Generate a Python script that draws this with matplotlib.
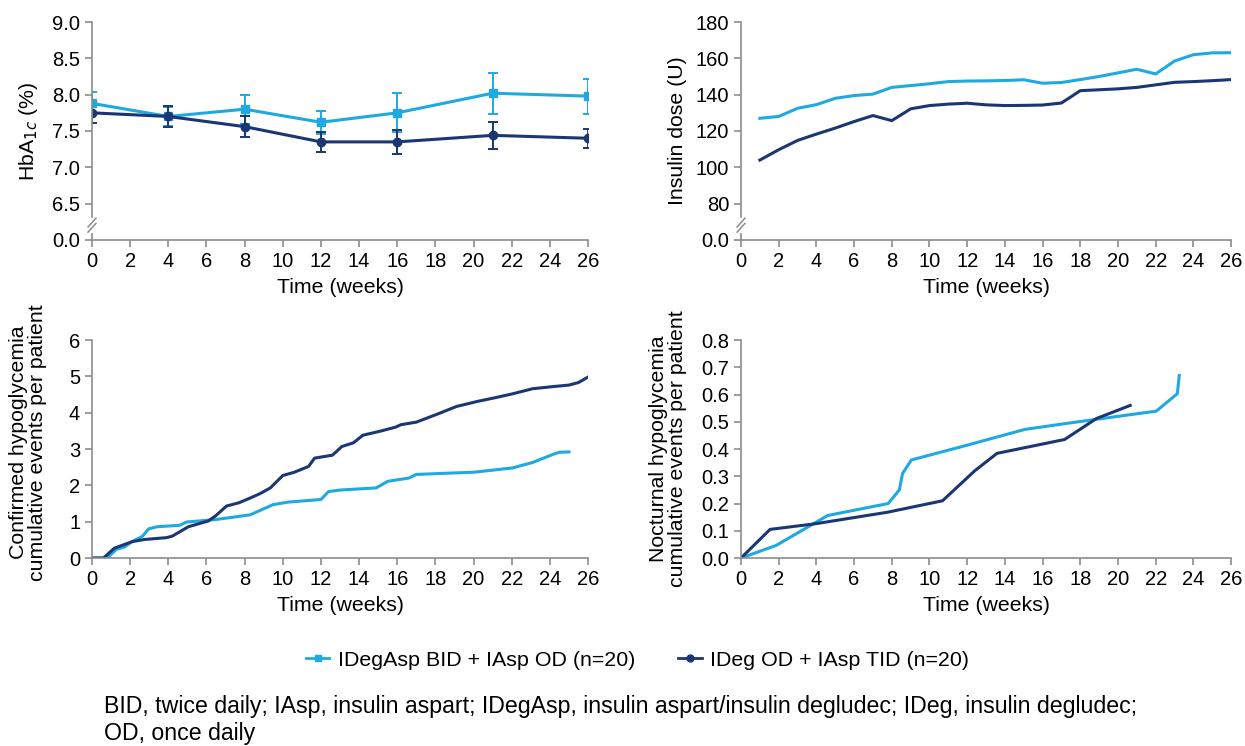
import matplotlib.pyplot as plt
from matplotlib.lines import Line2D

plt.rcParams['font.family'] = ['Liberation Sans', 'DejaVu Sans']
plt.rcParams['font.size'] = 14.5

LIGHT = "#1fa9e1"
DARK = "#1b3674"
GRAY = "#8c8c8c"

# HbA1c (%)
hba_weeks = [0, 4, 8, 12, 16, 21, 26]
hba_light = [7.88, 7.70, 7.80, 7.62, 7.75, 8.02, 7.98]
hba_light_err = [0.16, 0.13, 0.20, 0.16, 0.27, 0.28, 0.24]
hba_dark = [7.75, 7.70, 7.56, 7.35, 7.35, 7.44, 7.40]
hba_dark_err = [0.14, 0.14, 0.14, 0.14, 0.16, 0.19, 0.13]

# Insulin dose (U), weeks 1-26
dose_weeks = list(range(1, 27))
dose_light = [127, 128, 132.5, 134.5, 138, 139.5, 140.3, 144, 145, 146, 147.2, 147.5, 147.6,
              147.8, 148.2, 146.3, 146.7, 148.3, 150, 152, 154, 151.4, 158.5, 162, 163, 163.1]
dose_dark = [104, 109.7, 114.8, 118.3, 121.6, 125.2, 128.5, 125.7, 132.2, 134, 134.8, 135.3, 134.4,
             134, 134.1, 134.3, 135.4, 142.2, 142.7, 143.2, 144, 145.4, 146.8, 147.2, 147.7, 148.3]

# Confirmed hypoglycaemia cumulative events per patient
conf_light_x = [0, 0.8, 1.28, 1.7, 2.1, 2.65, 2.96, 3.4, 4.6, 4.95, 6.5, 7.35, 8.3, 8.85, 9.5,
                10.3, 12.0, 12.4, 13.0, 14.9, 15.5, 16.6, 17.0, 18.9, 20.0, 22.05, 23.1, 24.2,
                24.5, 25.0]
conf_light_y = [0, 0, 0.24, 0.3, 0.45, 0.6, 0.8, 0.86, 0.9, 0.99, 1.06, 1.12, 1.19, 1.32, 1.47,
                1.54, 1.61, 1.83, 1.87, 1.93, 2.11, 2.2, 2.3, 2.34, 2.36, 2.48, 2.63, 2.86,
                2.91, 2.92]
conf_dark_x = [0, 0.6, 1.17, 2.1, 2.75, 3.9, 4.2, 5.05, 6.1, 6.5, 7.05, 7.7, 8.2, 8.8, 9.35, 10.0,
               10.6, 11.35, 11.67, 12.6, 13.1, 13.7, 14.2, 15.1, 15.9, 16.2, 17.0, 18.1, 19.1,
               20.2, 21.2, 22.05, 23.1, 24.2, 25.0, 25.5, 26.0]
conf_dark_y = [0, 0, 0.27, 0.45, 0.51, 0.56, 0.6, 0.86, 1.02, 1.17, 1.43, 1.52, 1.63, 1.77, 1.93,
               2.27, 2.36, 2.52, 2.75, 2.83, 3.07, 3.17, 3.38, 3.49, 3.6, 3.67, 3.74, 3.96, 4.17,
               4.31, 4.42, 4.52, 4.66, 4.72, 4.76, 4.83, 4.98]

# Nocturnal hypoglycaemia cumulative events per patient
noct_light_x = [0, 1.86, 4.6, 7.81, 8.4, 8.57, 9.04, 11.78, 15.06, 17.27, 18.96, 22.03, 23.15, 23.25]
noct_light_y = [0, 0.046, 0.156, 0.2, 0.25, 0.31, 0.36, 0.41, 0.472, 0.494, 0.51, 0.539, 0.603, 0.67]
noct_dark_x = [0, 1.54, 3.97, 7.77, 10.69, 12.4, 13.58, 17.17, 18.86, 20.65]
noct_dark_y = [0, 0.105, 0.126, 0.168, 0.21, 0.32, 0.384, 0.435, 0.512, 0.56]

week_ticks = list(range(0, 27, 2))
legend_labels = ["IDegAsp BID + IAsp OD (n=20)", "IDeg OD + IAsp TID (n=20)"]
footnote = ("BID, twice daily; IAsp, insulin aspart; IDegAsp, insulin aspart/insulin degludec; "
            "IDeg, insulin degludec;\nOD, once daily")

fig = plt.figure(figsize=(12.45, 7.46), dpi=100)
ax1 = fig.add_axes([0.0739, 0.6783, 0.3984, 0.2922])
ax2 = fig.add_axes([0.5952, 0.6783, 0.3936, 0.2922])
ax3 = fig.add_axes([0.0739, 0.2520, 0.3984, 0.2922])
ax4 = fig.add_axes([0.5952, 0.2520, 0.3936, 0.2922])


def style(ax):
    for s in ["top", "right"]:
        ax.spines[s].set_visible(False)
    for s in ["left", "bottom"]:
        ax.spines[s].set_color(GRAY)
        ax.spines[s].set_linewidth(1.2)
    ax.tick_params(direction="out", length=5, width=1.2, color=GRAY, pad=3.5)
    ax.set_xlim(0, 26)
    ax.set_xticks(week_ticks)
    ax.set_xlabel("Time (weeks)", labelpad=5, fontsize=15.3)


def axis_break(ax, frac):
    # white gap in the y spine and two slanted marks
    ax.plot([0, 0], [frac - 0.025, frac + 0.025], transform=ax.transAxes, color="white",
            lw=3, clip_on=False, zorder=5)
    for d in (-0.012, 0.012):
        ax.plot([-0.008, 0.008], [frac + d - 0.02, frac + d + 0.02], transform=ax.transAxes,
                color=GRAY, lw=1.1, clip_on=False, zorder=6)


for ax in (ax1, ax2, ax3, ax4):
    style(ax)

# HbA1c
ax1.errorbar(hba_weeks, hba_light, yerr=hba_light_err, color=LIGHT, marker="s", ms=6,
             lw=2.2, capsize=3.5, elinewidth=1.4, capthick=1.4)
ax1.errorbar(hba_weeks, hba_dark, yerr=hba_dark_err, color=DARK, marker="o", ms=6,
             lw=2.2, capsize=3.5, elinewidth=1.4, capthick=1.4)
ax1.set_ylim(6.0, 9.0)
ax1.set_yticks([6.0, 6.5, 7.0, 7.5, 8.0, 8.5, 9.0])
ax1.set_yticklabels(["0.0", "6.5", "7.0", "7.5", "8.0", "8.5", "9.0"])
ax1.set_ylabel("HbA$_{1c}$ (%)", labelpad=9, fontsize=15.3)
axis_break(ax1, 0.068)

# Insulin dose
ax2.plot(dose_weeks, dose_light, color=LIGHT, lw=2.2)
ax2.plot(dose_weeks, dose_dark, color=DARK, lw=2.2)
ax2.set_ylim(60, 180)
ax2.set_yticks([60, 80, 100, 120, 140, 160, 180])
ax2.set_yticklabels(["0.0", "80", "100", "120", "140", "160", "180"])
ax2.set_ylabel("Insulin dose (U)", labelpad=6, fontsize=15.3)
axis_break(ax2, 0.068)

# Confirmed hypoglycaemia
ax3.plot(conf_light_x, conf_light_y, color=LIGHT, lw=2.2)
ax3.plot(conf_dark_x, conf_dark_y, color=DARK, lw=2.2)
ax3.set_ylim(0, 6)
ax3.set_yticks(range(0, 7))
ax3.set_ylabel("Confirmed hypoglycemia\ncumulative events per patient",
               linespacing=1.0, fontsize=15.3)
ax3.yaxis.set_label_coords(-0.09, 0.53)

# Nocturnal hypoglycaemia
ax4.plot(noct_light_x, noct_light_y, color=LIGHT, lw=2.2)
ax4.plot(noct_dark_x, noct_dark_y, color=DARK, lw=2.2)
ax4.set_ylim(0, 0.8)
ax4.set_yticks([0, 0.1, 0.2, 0.3, 0.4, 0.5, 0.6, 0.7, 0.8])
ax4.set_yticklabels(["0.0", "0.1", "0.2", "0.3", "0.4", "0.5", "0.6", "0.7", "0.8"])
ax4.set_ylabel("Nocturnal hypoglycemia\ncumulative events per patient",
               linespacing=1.0, fontsize=15.3)
ax4.yaxis.set_label_coords(-0.11, 0.5)

handles = [Line2D([], [], color=LIGHT, marker="s", ms=5, lw=2),
           Line2D([], [], color=DARK, marker="o", ms=5, lw=2)]
fig.legend(handles, legend_labels, loc="center", bbox_to_anchor=(0.512, 0.115), ncol=2,
           frameon=False, handlelength=1.1, handletextpad=0.4, columnspacing=2.0,
           fontsize=15.4)

fig.text(104 / 1245, 1 - 720 / 746, footnote, fontsize=16.7, va="center", ha="left",
         linespacing=1.25)

fig.savefig("out.png", dpi=100)
